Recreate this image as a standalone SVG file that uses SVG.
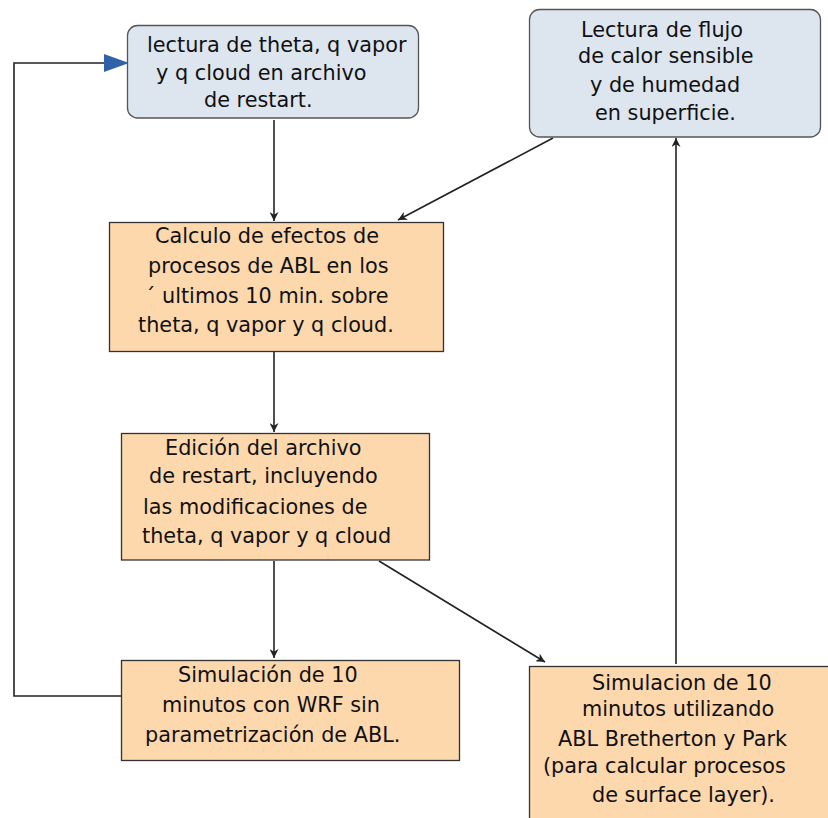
<svg xmlns="http://www.w3.org/2000/svg" width="828" height="818" viewBox="0 0 828 818">
<defs>
<style>
.t{font-family:"DejaVu Sans",Verdana,sans-serif;font-size:20.8px;fill:#111}
.blue{fill:#dde5ef;stroke:#555;stroke-width:1.3}
.peach{fill:#fdd8ad;stroke:#333;stroke-width:1.3}
.c{fill:none;stroke:#222;stroke-width:1.6}
</style>
<marker id="ah" viewBox="0 0 10 10" refX="10" refY="5" markerWidth="9" markerHeight="9" markerUnits="userSpaceOnUse" orient="auto">
<path d="M0,0 L10,5 L0,10 L3,5 Z" fill="#222"/>
</marker>
</defs>
<rect width="828" height="818" fill="#fff"/>
<g id="connectors">
<path class="c" d="M274,120 L274,221" marker-end="url(#ah)"/>
<path class="c" d="M553,138 L398,220" marker-end="url(#ah)"/>
<path class="c" d="M274,352 L274,432" marker-end="url(#ah)"/>
<path class="c" d="M274,561 L274,658" marker-end="url(#ah)"/>
<path class="c" d="M379,561 L545,662" marker-end="url(#ah)"/>
<path class="c" d="M676,664 L676,138" marker-end="url(#ah)"/>
<path class="c" d="M121,696 L14,696 L14,63 L105,63"/>
<path d="M104,54 L129,63 L104,72 Z" fill="#2f62a8"/>
</g>
<g id="n1">
<rect class="blue" x="127.5" y="25.5" width="291" height="92.5" rx="10"/>
<text class="t" x="147" y="52">lectura de theta, q vapor</text>
<text class="t" x="156" y="80">y q cloud en archivo</text>
<text class="t" x="204" y="107">de restart.</text>
</g>
<g id="n2">
<rect class="blue" x="529.5" y="9.5" width="291" height="127.5" rx="10"/>
<text class="t" x="581" y="37">Lectura de flujo</text>
<text class="t" x="578" y="63">de calor sensible</text>
<text class="t" x="590" y="92">y de humedad</text>
<text class="t" x="595" y="120">en superficie.</text>
</g>
<g id="n3">
<rect class="peach" x="109.5" y="222.5" width="334" height="129"/>
<text class="t" x="155" y="243">Calculo de efectos de</text>
<text class="t" x="148" y="273">procesos de ABL en los</text>
<text class="t" x="145" y="303">´ ultimos 10 min. sobre</text>
<text class="t" x="138" y="332">theta, q vapor y q cloud.</text>
</g>
<g id="n4">
<rect class="peach" x="121.5" y="433.5" width="308" height="126.5"/>
<text class="t" x="165" y="455">Edición del archivo</text>
<text class="t" x="149" y="483">de restart, incluyendo</text>
<text class="t" x="143" y="514">las modificaciones de</text>
<text class="t" x="142" y="543">theta, q vapor y q cloud</text>
</g>
<g id="n5">
<rect class="peach" x="121.5" y="660.5" width="338" height="100"/>
<text class="t" x="178" y="682">Simulación de 10</text>
<text class="t" x="162" y="712">minutos con WRF sin</text>
<text class="t" x="145" y="742">parametrización de ABL.</text>
</g>
<g id="n6">
<rect class="peach" x="529.5" y="666.5" width="310" height="160"/>
<text class="t" x="592" y="690">Simulacion de 10</text>
<text class="t" x="582" y="716">minutos utilizando</text>
<text class="t" x="558" y="746">ABL Bretherton y Park</text>
<text class="t" x="543" y="773">(para calcular procesos</text>
<text class="t" x="592" y="802">de surface layer).</text>
</g>
</svg>
